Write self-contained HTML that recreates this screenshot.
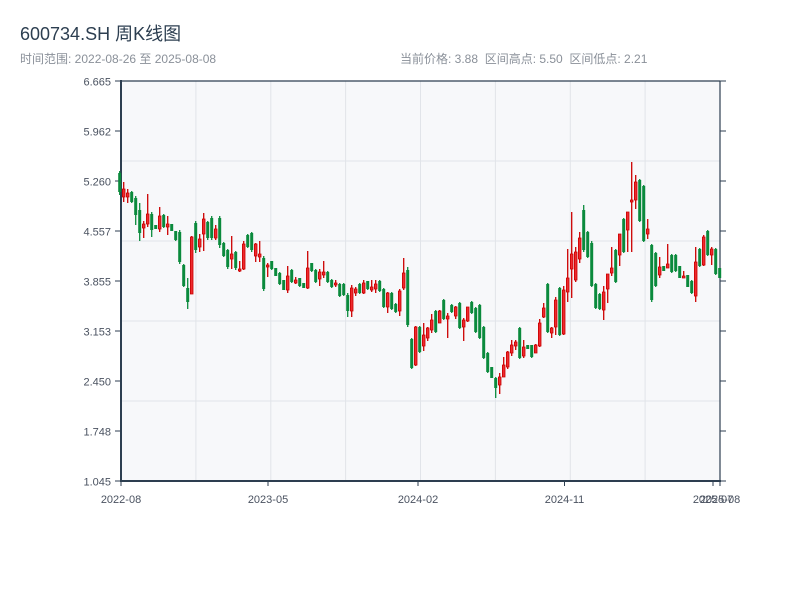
<!DOCTYPE html>
<html><head><meta charset="utf-8"><style>
html,body{margin:0;padding:0;background:#fff;}
svg{display:block;}
text{font-family:"Liberation Sans","Noto Sans CJK SC",sans-serif;}
.pre{white-space:pre;}
</style></head><body>
<svg width="800" height="600" viewBox="0 0 800 600" xmlns="http://www.w3.org/2000/svg">
<rect width="800" height="600" fill="#fff"/>
<text x="20" y="40" font-size="18" fill="#2c3e50">600734.SH 周K线图</text>
<text x="20" y="63" font-size="12" fill="#8a9099">时间范围: 2022-08-26 至 2025-08-08</text>
<text x="400" y="63" font-size="12" fill="#8a9099" class="pre" xml:space="preserve">当前价格: 3.88  区间高点: 5.50  区间低点: 2.21</text>
<rect x="121" y="81" width="599" height="400" fill="#f7f8fa"/>
<g stroke="#e1e4e9" stroke-width="1">
<path d="M195.9 81V481M270.8 81V481M345.6 81V481M420.5 81V481M495.4 81V481M570.3 81V481M645.1 81V481"/>
<path d="M121 161H720M121 241H720M121 321H720M121 401H720"/>
</g>
<g stroke="#2d3e50" fill="none">
<path stroke-width="2" d="M121 80V482M120 481H721"/>
<path stroke-width="1.2" d="M121 81H720M720 81V481"/>
<path stroke-width="1" d="M115 81H121M115 131H121M115 181H121M115 231H121M115 281H121M115 331H121M115 381H121M115 431H121M115 481H121"/>
<path stroke-width="1" d="M720 81H726M720 131H726M720 181H726M720 231H726M720 281H726M720 331H726M720 381H726M720 431H726M720 481H726"/>
<path stroke-width="1" d="M121 481V486M268 481V486M418 481V486M564.5 481V486M713 481V486M720 481V486"/>
</g>
<g font-size="11" fill="#4a5260" text-anchor="end">
<text x="111" y="85.5">6.665</text>
<text x="111" y="135.5">5.962</text>
<text x="111" y="185.5">5.260</text>
<text x="111" y="235.5">4.557</text>
<text x="111" y="285.5">3.855</text>
<text x="111" y="335.5">3.153</text>
<text x="111" y="385.5">2.450</text>
<text x="111" y="435.5">1.748</text>
<text x="111" y="485.5">1.045</text>
</g>
<g font-size="11" fill="#4a5260" text-anchor="middle">
<text x="121" y="503">2022-08</text>
<text x="268" y="503">2023-05</text>
<text x="418" y="503">2024-02</text>
<text x="564.5" y="503">2024-11</text>
<text x="713" y="503">2025-07</text>
<text x="720" y="503">2025-08</text>
</g>
<!-- green candles -->
<path fill="none" stroke="#0a8a3c" stroke-width="1.3" d="M119.7 171V195M131.7 191V203M135.7 196V225M139.7 203V241M151.7 212V237M155.7 225V229M163.7 214V228M171.7 224V231M175.7 231V241M179.7 230V264M183.7 264V287M187.7 278V309M195.7 221V253M207.7 221V240M211.7 216V240M219.7 216V248M223.7 242V257M227.7 249V269M235.7 251V270M247.7 234V248M251.7 232V252M263.7 256V291M271.7 261V270M275.7 268V276M279.7 272V285M283.7 280V290M291.7 269V283M299.7 278V287M303.7 283V288M311.7 263V272M315.7 269V283M327.7 271V283M331.7 279V288M339.7 283V297M343.7 283V296M347.7 293V317M359.7 283V294M367.7 281V290M379.7 280V292M383.7 288V308M391.7 292V310M395.7 303V313M407.7 267V327M411.7 338V369M419.7 326V353M435.7 310V333M443.7 299V320M451.7 304V313M459.7 302V329M471.7 301V314M475.7 307V333M479.7 304V339M483.7 326V359M487.7 352V373M491.7 367V378M495.7 377V398M519.7 327V359M527.7 345V349M531.7 345V358M547.7 283V333M559.7 287V336M583.7 205V252M587.7 231V258M591.7 241V287M595.7 283V309M599.7 293V310M615.7 249V283M623.7 218V253M639.7 179V222M643.7 185V242M651.7 244V302M655.7 252V287M663.7 266V271M671.7 254V273M675.7 254V272M679.7 266V278M687.7 275V287M691.7 280V294M699.7 248V267M707.7 230V256M715.7 248V275M719.7 268V278"/>
<path fill="#0a8a3c" d="M118.2 173h3V192h-3zM130.2 192h3V202h-3zM134.2 198h3V215h-3zM138.2 210h3V233h-3zM150.2 214h3V230h-3zM154.2 225h3V229h-3zM162.2 215h3V227h-3zM170.2 224h3V231h-3zM174.2 231h3V240h-3zM178.2 232h3V262h-3zM182.2 265h3V286h-3zM186.2 288h3V302h-3zM194.2 223h3V250h-3zM206.2 222h3V238h-3zM210.2 218h3V238h-3zM218.2 218h3V245h-3zM222.2 243h3V256h-3zM226.2 250h3V267h-3zM234.2 252h3V268h-3zM246.2 235h3V247h-3zM250.2 233h3V250h-3zM262.2 258h3V289h-3zM270.2 261h3V269h-3zM274.2 268h3V276h-3zM278.2 273h3V284h-3zM282.2 280h3V290h-3zM290.2 270h3V282h-3zM298.2 278h3V286h-3zM302.2 283h3V288h-3zM310.2 263h3V271h-3zM314.2 270h3V282h-3zM326.2 272h3V282h-3zM330.2 280h3V287h-3zM338.2 284h3V296h-3zM342.2 284h3V295h-3zM346.2 295h3V311h-3zM358.2 284h3V293h-3zM366.2 281h3V289h-3zM378.2 281h3V291h-3zM382.2 289h3V307h-3zM390.2 293h3V309h-3zM394.2 304h3V312h-3zM406.2 270h3V325h-3zM410.2 339h3V368h-3zM418.2 327h3V352h-3zM434.2 311h3V332h-3zM442.2 300h3V319h-3zM450.2 305h3V312h-3zM458.2 303h3V328h-3zM470.2 302h3V313h-3zM474.2 308h3V332h-3zM478.2 305h3V338h-3zM482.2 327h3V358h-3zM486.2 353h3V372h-3zM490.2 367h3V378h-3zM494.2 378h3V388h-3zM518.2 328h3V358h-3zM526.2 345h3V349h-3zM530.2 345h3V357h-3zM546.2 284h3V332h-3zM558.2 288h3V335h-3zM582.2 210h3V250h-3zM586.2 232h3V257h-3zM590.2 243h3V286h-3zM594.2 284h3V308h-3zM598.2 294h3V309h-3zM614.2 250h3V282h-3zM622.2 219h3V252h-3zM638.2 180h3V221h-3zM642.2 186h3V241h-3zM650.2 245h3V300h-3zM654.2 253h3V286h-3zM662.2 266h3V271h-3zM670.2 255h3V272h-3zM674.2 255h3V271h-3zM678.2 266h3V278h-3zM686.2 275h3V287h-3zM690.2 281h3V293h-3zM698.2 249h3V266h-3zM706.2 231h3V255h-3zM714.2 249h3V274h-3zM718.2 268h3V278h-3z"/>
<!-- red candles -->
<path fill="none" stroke="#cc0000" stroke-width="1.3" d="M123.7 182V202M127.7 189V203M143.7 221V238M147.7 194V227M159.7 207V232M167.7 216V235M191.7 236V294M199.7 234V252M203.7 213V251M215.7 225V240M231.7 236V269M239.7 261V272M243.7 241V270M255.7 243V262M259.7 241V262M267.7 263V277M287.7 266V293M295.7 277V284M307.7 251V289M319.7 269V286M323.7 261V278M335.7 280V287M351.7 285V317M355.7 287V296M363.7 280V294M371.7 280V292M375.7 280V293M387.7 292V313M399.7 289V316M403.7 258V290M415.7 326V366M423.7 323V351M427.7 327V341M431.7 314V333M439.7 310V323M447.7 313V338M455.7 306V319M463.7 318V341M467.7 307V322M499.7 373V394M503.7 357V377M507.7 351V369M511.7 340V356M515.7 340V350M523.7 340V358M535.7 344V353M539.7 319V347M543.7 303V318M551.7 327V338M555.7 297V335M563.7 286V335M567.7 249V302M571.7 212V298M575.7 247V282M579.7 232V263M603.7 286V320M607.7 274V303M611.7 247V276M619.7 234V266M627.7 212V252M631.7 162V252M635.7 175V209M647.7 219V239M659.7 257V278M667.7 244V268M683.7 271V278M695.7 247V302M703.7 235V266M711.7 247V265"/>
<path fill="#ee2a2e" stroke="#c80000" stroke-width="0.8" d="M122.4 189h2.6V197h-2.6zM126.4 193h2.6V197h-2.6zM142.4 224h2.6V228h-2.6zM146.4 214h2.6V224h-2.6zM158.4 216h2.6V229h-2.6zM166.4 224h2.6V227h-2.6zM190.4 237h2.6V294h-2.6zM198.4 239h2.6V247h-2.6zM202.4 219h2.6V234h-2.6zM214.4 229h2.6V238h-2.6zM230.4 254h2.6V259h-2.6zM238.4 269h2.6V271h-2.6zM242.4 244h2.6V269h-2.6zM254.4 244h2.6V256h-2.6zM258.4 254h2.6V257h-2.6zM266.4 265h2.6V267h-2.6zM286.4 276h2.6V290h-2.6zM294.4 280h2.6V283h-2.6zM306.4 268h2.6V288h-2.6zM318.4 272h2.6V279h-2.6zM322.4 272h2.6V275h-2.6zM334.4 283h2.6V285h-2.6zM350.4 288h2.6V311h-2.6zM354.4 289h2.6V293h-2.6zM362.4 283h2.6V293h-2.6zM370.4 287h2.6V290h-2.6zM374.4 284h2.6V289h-2.6zM386.4 293h2.6V307h-2.6zM398.4 291h2.6V311h-2.6zM402.4 273h2.6V288h-2.6zM414.4 327h2.6V365h-2.6zM422.4 335h2.6V346h-2.6zM426.4 328h2.6V338h-2.6zM430.4 320h2.6V330h-2.6zM438.4 311h2.6V323h-2.6zM446.4 316h2.6V319h-2.6zM454.4 307h2.6V316h-2.6zM462.4 320h2.6V327h-2.6zM466.4 307h2.6V321h-2.6zM498.4 377h2.6V385h-2.6zM502.4 365h2.6V377h-2.6zM506.4 352h2.6V367h-2.6zM510.4 345h2.6V353h-2.6zM514.4 342h2.6V346h-2.6zM522.4 347h2.6V356h-2.6zM534.4 345h2.6V353h-2.6zM538.4 323h2.6V346h-2.6zM542.4 308h2.6V317h-2.6zM550.4 328h2.6V333h-2.6zM554.4 300h2.6V327h-2.6zM562.4 290h2.6V334h-2.6zM566.4 278h2.6V292h-2.6zM570.4 254h2.6V269h-2.6zM574.4 252h2.6V280h-2.6zM578.4 238h2.6V259h-2.6zM602.4 292h2.6V310h-2.6zM606.4 274h2.6V289h-2.6zM610.4 268h2.6V273h-2.6zM618.4 234h2.6V255h-2.6zM626.4 212h2.6V230h-2.6zM630.4 200h2.6V202h-2.6zM634.4 182h2.6V200h-2.6zM646.4 229h2.6V234h-2.6zM658.4 267h2.6V275h-2.6zM666.4 264h2.6V268h-2.6zM682.4 276h2.6V278h-2.6zM694.4 262h2.6V296h-2.6zM702.4 237h2.6V265h-2.6zM710.4 249h2.6V255h-2.6z"/>
</svg>
</body></html>
